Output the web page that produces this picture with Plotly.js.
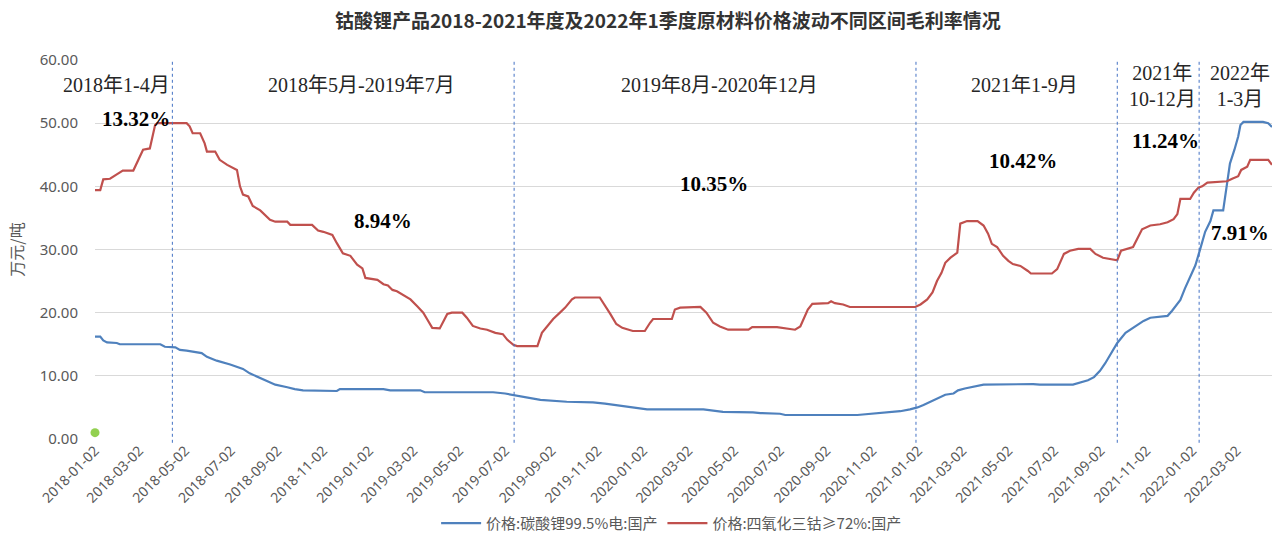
<!DOCTYPE html>
<html>
<head>
<meta charset="utf-8">
<script src="https://cdn.plot.ly/plotly-3.0.1.min.js"></script>
<style>html,body{margin:0;padding:0;background:#fff;}#chart{width:1272px;height:542px;}</style>
</head>
<body>
<div id="chart"></div>
<script>
// 价格:碳酸锂99.5%电:国产 (万元/吨)
const lithiumDates = ["2018-01-02","2018-01-09","2018-01-13","2018-01-18","2018-01-31","2018-02-04","2018-03-30","2018-04-05","2018-04-19","2018-04-25","2018-05-04","2018-05-24","2018-05-31","2018-06-13","2018-07-01","2018-07-18","2018-07-27","2018-08-14","2018-08-30","2018-09-15","2018-09-25","2018-10-06","2018-11-20","2018-11-24","2019-01-21","2019-01-30","2019-03-11","2019-03-17","2019-06-16","2019-07-02","2019-07-22","2019-08-04","2019-08-18","2019-09-22","2019-10-27","2019-11-12","2019-12-02","2019-12-22","2020-01-07","2020-03-22","2020-03-31","2020-04-17","2020-05-27","2020-06-06","2020-07-02","2020-07-09","2020-10-13","2020-10-30","2020-11-22","2020-12-09","2020-12-22","2021-01-01","2021-01-09","2021-01-18","2021-01-27","2021-02-07","2021-02-18","2021-02-24","2021-03-05","2021-03-16","2021-03-30","2021-06-04","2021-06-13","2021-07-27","2021-08-06","2021-08-16","2021-08-24","2021-09-01","2021-09-08","2021-09-15","2021-09-24","2021-10-05","2021-10-15","2021-10-29","2021-11-07","2021-11-30","2021-12-06","2021-12-17","2021-12-23","2021-12-30","2022-01-06","2022-01-12","2022-01-19","2022-01-26","2022-01-30","2022-02-12","2022-02-16","2022-02-21","2022-02-27","2022-03-04","2022-03-07","2022-03-11","2022-04-06","2022-04-13","2022-04-18"];
const lithiumValues = [16.2,16.2,15.6,15.3,15.2,15.0,15.0,14.6,14.5,14.1,14.0,13.6,13.0,12.4,11.8,11.1,10.4,9.5,8.6,8.2,7.9,7.7,7.6,7.9,7.9,7.7,7.7,7.4,7.4,7.2,6.8,6.5,6.2,5.9,5.8,5.6,5.3,5.0,4.7,4.7,4.6,4.3,4.2,4.1,4.0,3.8,3.8,4.0,4.2,4.4,4.7,5.0,5.4,5.9,6.5,7.0,7.2,7.7,8.0,8.3,8.6,8.7,8.6,8.6,8.9,9.3,9.8,10.8,12.0,13.5,15.2,16.8,17.6,18.7,19.2,19.5,20.3,22.0,23.8,25.8,27.5,29.9,32.8,34.5,36.2,36.2,39.4,43.6,45.8,47.9,49.7,50.2,50.2,50.0,49.4];

// 价格:四氧化三钴≥72%:国产 (万元/吨)
const cobaltDates = ["2018-01-02","2018-01-09","2018-01-13","2018-01-22","2018-01-31","2018-02-08","2018-02-22","2018-03-07","2018-03-16","2018-03-20","2018-03-23","2018-03-26","2018-05-04","2018-05-08","2018-05-12","2018-05-22","2018-05-28","2018-05-31","2018-06-11","2018-06-17","2018-06-27","2018-07-10","2018-07-14","2018-07-18","2018-07-25","2018-07-31","2018-08-10","2018-08-23","2018-08-30","2018-09-15","2018-09-19","2018-10-18","2018-10-26","2018-11-02","2018-11-14","2018-11-20","2018-11-28","2018-12-08","2018-12-17","2018-12-24","2018-12-28","2019-01-13","2019-01-21","2019-01-27","2019-02-02","2019-02-08","2019-02-18","2019-02-26","2019-03-07","2019-03-15","2019-03-21","2019-03-27","2019-04-06","2019-04-12","2019-04-16","2019-04-22","2019-05-06","2019-05-12","2019-05-20","2019-05-30","2019-06-08","2019-06-19","2019-06-29","2019-07-05","2019-07-13","2019-07-18","2019-08-14","2019-08-20","2019-08-27","2019-09-04","2019-09-13","2019-09-20","2019-09-29","2019-10-03","2019-11-05","2019-11-12","2019-11-19","2019-11-27","2019-12-05","2019-12-19","2020-01-04","2020-01-11","2020-01-15","2020-02-09","2020-02-13","2020-02-20","2020-03-18","2020-03-26","2020-04-04","2020-04-13","2020-04-24","2020-05-21","2020-05-26","2020-06-28","2020-07-09","2020-07-22","2020-07-29","2020-08-02","2020-08-08","2020-08-14","2020-09-04","2020-09-08","2020-09-13","2020-09-24","2020-10-03","2020-12-29","2021-01-05","2021-01-14","2021-01-21","2021-01-27","2021-02-02","2021-02-07","2021-02-14","2021-02-23","2021-02-27","2021-03-08","2021-03-22","2021-03-30","2021-04-05","2021-04-10","2021-04-17","2021-04-25","2021-05-02","2021-05-08","2021-05-18","2021-05-28","2021-06-01","2021-06-29","2021-07-06","2021-07-15","2021-07-23","2021-08-03","2021-08-19","2021-08-26","2021-09-05","2021-09-24","2021-09-29","2021-10-15","2021-10-22","2021-10-27","2021-11-07","2021-11-20","2021-11-30","2021-12-08","2021-12-13","2021-12-17","2021-12-30","2022-01-04","2022-01-10","2022-01-15","2022-01-22","2022-02-17","2022-02-24","2022-03-04","2022-03-08","2022-03-16","2022-03-20","2022-04-13","2022-04-18"];
const cobaltValues = [39.4,39.4,41.1,41.2,41.9,42.5,42.5,45.8,46.0,48.4,49.7,50.0,50.0,49.5,48.4,48.4,46.8,45.5,45.5,44.2,43.4,42.6,40.0,38.7,38.4,36.9,36.2,34.7,34.4,34.4,33.9,33.9,33.0,32.8,32.3,31.0,29.4,29.0,27.6,27.0,25.5,25.2,24.5,24.3,23.6,23.4,22.6,22.1,21.0,20.0,18.8,17.6,17.5,18.8,19.8,20.0,20.0,19.2,17.9,17.5,17.3,16.8,16.6,15.7,14.9,14.7,14.7,16.8,17.9,19.0,20.0,20.8,22.1,22.4,22.4,21.2,19.8,18.2,17.6,17.1,17.1,18.4,19.0,19.0,20.5,20.8,20.9,20.0,18.4,17.8,17.3,17.3,17.7,17.7,17.5,17.3,17.8,19.0,20.5,21.4,21.5,21.8,21.5,21.3,20.9,20.9,21.3,22.1,23.2,25.0,26.3,27.9,28.7,29.5,34.1,34.5,34.5,33.8,32.5,30.9,30.4,29.0,28.2,27.7,27.4,26.6,26.2,26.2,26.9,29.3,29.8,30.1,30.1,29.3,28.7,28.3,29.8,30.4,31.9,33.2,33.8,34.0,34.3,34.8,35.6,38.0,38.0,39.0,39.8,40.0,40.6,40.8,41.2,41.6,42.6,43.1,44.2,44.2,43.4];

// green marker series
const extraDates = ["2018-01-02"];
const extraValues = [1.0];

// period boundaries and labels
const boundaryDates = ["2018-04-15","2019-07-14","2020-12-30","2021-09-24","2022-01-11"];
const periodLabels = ["2018年1-4月","2018年5月-2019年7月","2019年8月-2020年12月","2021年1-9月","2021年<br>10-12月","2022年<br>1-3月"];
const periodLabelDates = ["2018-01-30","2018-12-23","2020-04-13","2021-05-23","2021-11-23","2022-03-07"];
const marginLabels = ["13.32%","8.94%","10.35%","10.42%","11.24%","7.91%"];
const marginLabelDates = ["2018-02-25","2019-01-21","2020-04-05","2021-05-22","2021-11-27","2022-03-06"];
const marginLabelLevels = [50.7,34.5,40.4,44.0,47.2,32.6];

const tickDates = ["2018-01-02","2018-03-02","2018-05-02","2018-07-02","2018-09-02","2018-11-02","2019-01-02","2019-03-02","2019-05-02","2019-07-02","2019-09-02","2019-11-02","2020-01-02","2020-03-02","2020-05-02","2020-07-02","2020-09-02","2020-11-02","2021-01-02","2021-03-02","2021-05-02","2021-07-02","2021-09-02","2021-11-02","2022-01-02","2022-03-02"];

const traces = [
  {x: lithiumDates, y: lithiumValues, type: 'scatter', mode: 'lines', name: '价格:碳酸锂99.5%电:国产',
   line: {color: '#4F81BD', width: 2.2}},
  {x: cobaltDates, y: cobaltValues, type: 'scatter', mode: 'lines', name: '价格:四氧化三钴≥72%:国产',
   line: {color: '#C0504D', width: 2.2}},
  {x: extraDates, y: extraValues, type: 'scatter', mode: 'markers', showlegend: false, cliponaxis: false,
   marker: {color: '#92D050', size: 9}}
];

const shapes = boundaryDates.map(d => ({
  type: 'line', xref: 'x', yref: 'paper', x0: d, x1: d, y0: -0.01, y1: 1,
  line: {color: '#4472C4', width: 1, dash: 'dot'}
}));

const annotations = [];
periodLabels.forEach((t, i) => {
  annotations.push({x: periodLabelDates[i], y: i >= 4 ? 55.9 : 56.0, xref: 'x', yref: 'y', text: t, showarrow: false,
    xanchor: 'center', yanchor: 'middle',
    font: {family: 'Liberation Serif, Noto Sans CJK SC', size: 20, color: '#262626'}});
});
marginLabels.forEach((t, i) => {
  annotations.push({x: marginLabelDates[i], y: marginLabelLevels[i], xref: 'x', yref: 'y', text: '<b>' + t + '</b>', showarrow: false,
    xanchor: 'center', yanchor: 'middle',
    font: {family: 'Liberation Serif, serif', size: 21, color: '#000'}});
});

const layout = {
  width: 1272, height: 542,
  margin: {l: 95, r: 0, t: 60, b: 103},
  paper_bgcolor: '#fff', plot_bgcolor: '#fff',
  title: {text: '<b>钴酸锂产品2018-2021年度及2022年1季度原材料价格波动不同区间毛利率情况</b>',
    x: 0.525, xanchor: 'center', y: 0.96, yanchor: 'middle',
    font: {family: 'Noto Sans CJK SC', size: 19, color: '#333'}},
  xaxis: {type: 'date', range: ['2018-01-02', '2022-04-18'], tickvals: tickDates, tickformat: '%Y-%m-%d',
    tickangle: -45, showgrid: false, zeroline: false, showline: false, ticks: '',
    tickfont: {family: 'Noto Sans', size: 14, color: '#595959'}},
  yaxis: {range: [0, 60], dtick: 10, tickformat: '.2f', showgrid: true, gridcolor: '#D9D9D9', gridwidth: 1,
    zeroline: false, showline: false, ticks: '', ticklabelstandoff: 16,
    tickfont: {family: 'Noto Sans', size: 15, color: '#595959'},
    title: {text: '万元/吨', standoff: 12, font: {family: 'Noto Sans CJK SC', size: 16, color: '#595959'}}},
  legend: {orientation: 'h', xref: 'container', yref: 'container', x: 0.528, xanchor: 'center', y: 0.004, yanchor: 'bottom',
    font: {family: 'Noto Sans CJK SC', size: 15, color: '#595959'}, itemwidth: 40},
  shapes: shapes,
  annotations: annotations,
  showlegend: true
};

Plotly.newPlot('chart', traces, layout, {displayModeBar: false, staticPlot: true});
</script>
</body>
</html>
